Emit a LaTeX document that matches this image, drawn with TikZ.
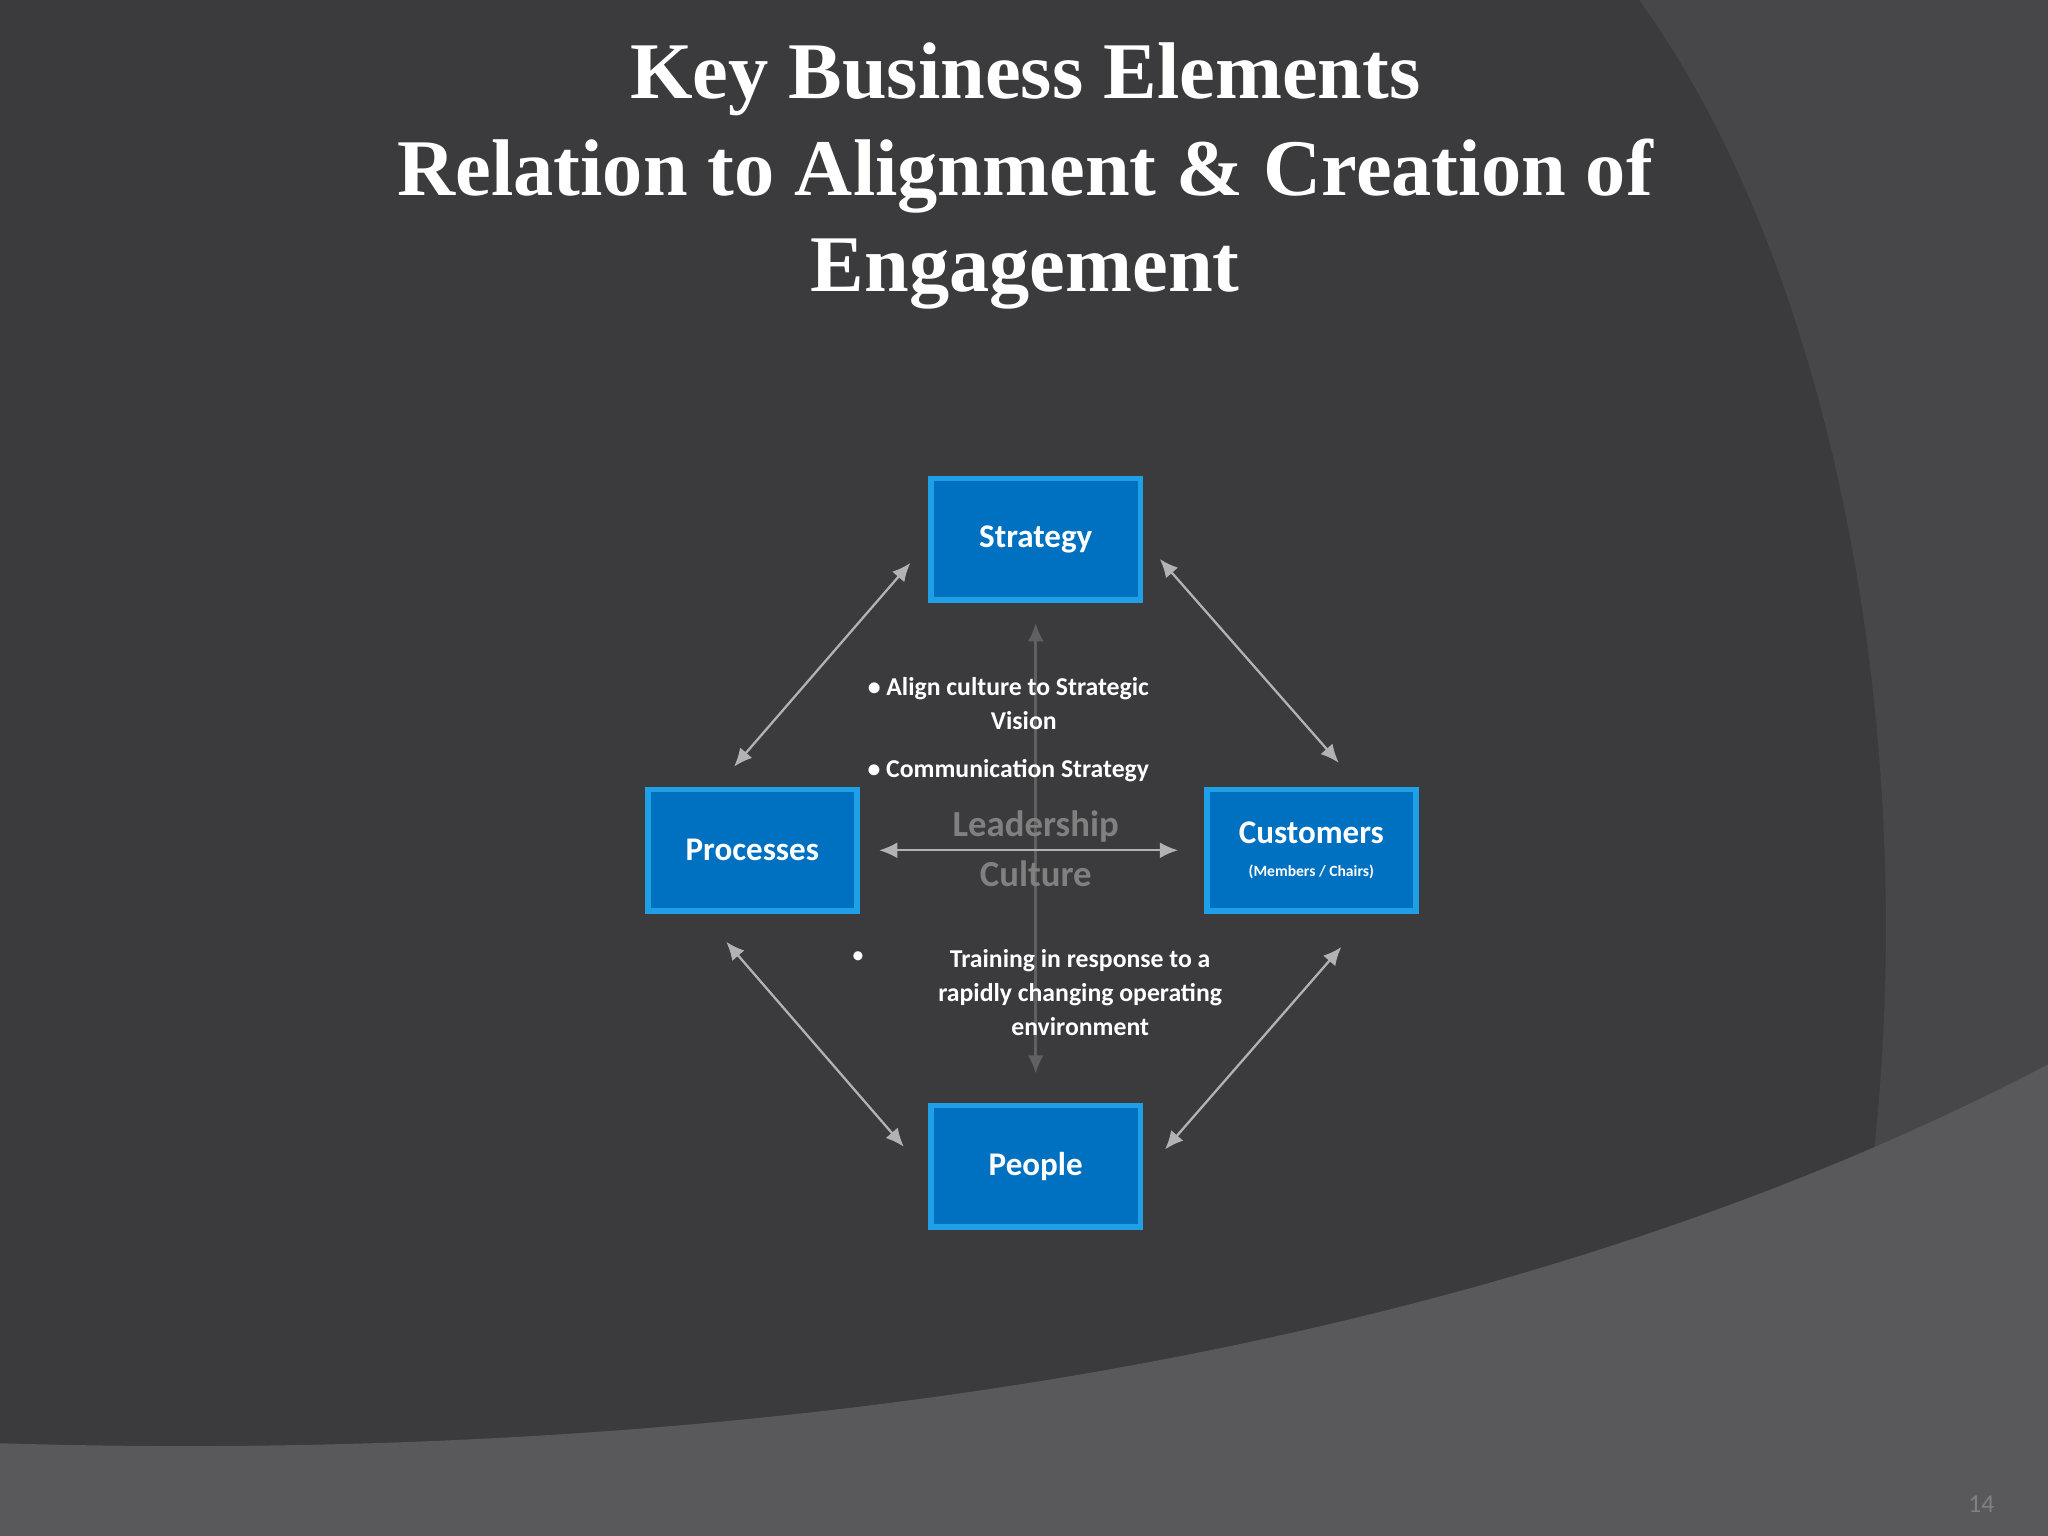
\documentclass[tikz,border=0pt]{standalone}
\usepackage{fontspec}
\setmainfont{Carlito}
\newfontfamily\titlefont{Liberation Serif}
\usetikzlibrary{arrows.meta}
\definecolor{bgdark}{HTML}{3B3A3C}
\definecolor{bgmid}{HTML}{474648}
\definecolor{bglight}{HTML}{59585B}
\definecolor{boxblue}{HTML}{0070C0}
\definecolor{boxedge}{HTML}{1FA0E6}
\tikzset{
  elem/.style={draw=boxedge,line width=1.2pt,fill=boxblue,minimum width=1.6cm,minimum height=0.93cm,
    text=white,font=\bfseries\fontsize{7.2}{8}\selectfont,align=center,inner sep=0pt},
  link/.style={draw=gray!60,line width=0.5pt,{Latex[length=4pt,width=3.5pt]}-{Latex[length=4pt,width=3.5pt]}},
  bullet/.style={text=white,font=\bfseries\fontsize{5.6}{7.4}\selectfont,align=center}
}
\begin{document}
\begin{tikzpicture}[x=0.01cm,y=-0.01cm]
\useasboundingbox (0,0) rectangle (1568,1176);
\fill[bgdark] (0,0) rectangle (1568,1176);
\fill[bgmid] (1255,0) .. controls (1400,200) and (1470,550) .. (1435,880) -- (1568,880) -- (1568,0) -- cycle;
\fill[bglight] (0,1105) .. controls (500,1120) and (1100,1060) .. (1568,815) -- (1568,1176) -- (0,1176) -- cycle;
% title
\node[text=white,font=\titlefont\bfseries\fontsize{17.5}{21}\selectfont,align=center] (title) at (785,135)
  {Key Business Elements\\Relation to Alignment \& Creation of\\Engagement};
% boxes
\node[elem] (strat) at (793,413) {Strategy};
\node[elem] (proc) at (576,651) {Processes};
\node[elem] (cust) at (1004,651) {Customers\\[-1pt]{\fontsize{3.4}{4}\selectfont(Members / Chairs)}};
\node[elem] (people) at (793,893) {People};
% centre
\coordinate (vtop) at (793,477);
\coordinate (vbot) at (793,822);
\coordinate (hleft) at (673,651);
\coordinate (hright) at (902,651);
\draw[draw=gray!75!black,line width=0.6pt,{Latex[length=4pt,width=3.5pt]}-{Latex[length=4pt,width=3.5pt]}] (vtop) -- (vbot);
\draw[link] (hleft) -- (hright);
\node[text=gray,font=\bfseries\fontsize{8}{11}\selectfont,align=center] (lead) at (793,650) {Leadership\\Culture};
% diagonals
\coordinate (sp1) at (697,431); \coordinate (sp2) at (562,587);
\coordinate (sc1) at (888,428); \coordinate (sc2) at (1025,584);
\coordinate (pp1) at (556,721); \coordinate (pp2) at (692,878);
\coordinate (cp1) at (1027,725); \coordinate (cp2) at (892,880);
\draw[link] (sp1) -- (sp2);
\draw[link] (sc1) -- (sc2);
\draw[link] (pp1) -- (pp2);
\draw[link] (cp1) -- (cp2);
% bullets
\node[bullet] (b1) at (772,539) {\textbullet\ Align culture to Strategic\\\hspace{1.2em}Vision};
\node[bullet] (b2) at (772,590) {\textbullet\ Communication Strategy};
\node[bullet] (b3) at (827,760) {Training in response to a\\rapidly changing operating\\environment};
\node[text=white,font=\fontsize{5.6}{7}\selectfont] (b3dot) at (657,733) {\textbullet};
\node[text=gray,font=\fontsize{5.6}{7}\selectfont] (num) at (1517,1152) {14};
\end{tikzpicture}
\end{document}
